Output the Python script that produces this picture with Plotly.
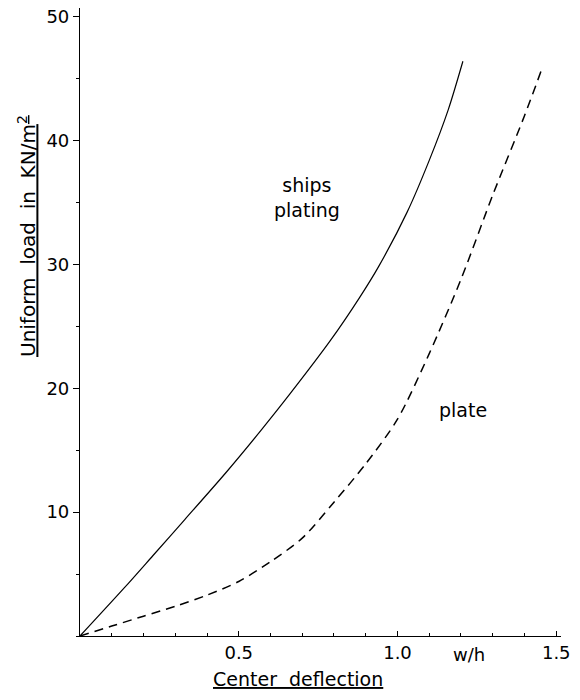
import plotly.graph_objects as go

# Data
ship_x = [0, 0.14, 0.23, 0.33, 0.46, 0.57, 0.66, 0.79, 0.88, 0.94, 1.03, 1.10, 1.16, 1.206]
ship_y = [0, 3.9, 6.5, 9.4, 13.2, 16.6, 19.5, 23.9, 27.3, 29.8, 34.2, 38.4, 42.5, 46.4]

plate_x = [0, 0.1, 0.2, 0.3, 0.4, 0.5, 0.6, 0.7, 0.8, 0.9, 1.0, 1.1, 1.2, 1.3, 1.4, 1.455]
plate_y = [0, 0.8, 1.6, 2.4, 3.3, 4.4, 6.0, 7.9, 10.8, 13.9, 17.5, 22.8, 28.8, 35.6, 42.0, 45.8]

x_tickvals = [0.5, 1.0, 1.5]
x_ticktext = ["0.5", "1.0", "1.5"]
y_tickvals = [10, 20, 30, 40, 50]
y_ticktext = ["10", "20", "30", "40", "50"]

FONT = "DejaVu Sans"

fig = go.Figure()
fig.add_trace(go.Scatter(x=ship_x, y=ship_y, mode="lines",
                         line=dict(color="black", width=1.2, shape="spline", smoothing=0.8),
                         showlegend=False))
fig.add_trace(go.Scatter(x=plate_x, y=plate_y, mode="lines",
                         line=dict(color="black", width=1.5, dash="9px,6px", shape="spline", smoothing=0.8),
                         showlegend=False))

# the page body adds an 8px offset, so margins are reduced by 8 on the left/top
fig.update_layout(
    width=580, height=700,
    margin=dict(l=72, r=27, t=0, b=72, autoexpand=False),
    paper_bgcolor="white", plot_bgcolor="white",
    font=dict(family=FONT, size=18, color="black"),
    showlegend=False,
    xaxis=dict(range=[0, 1.515], showline=True, linecolor="black", linewidth=1.2,
               showgrid=False, zeroline=False, automargin=False,
               tickvals=x_tickvals, ticktext=x_ticktext, ticklabeloverflow="allow",
               ticks="inside", ticklen=5, tickcolor="black",
               minor=dict(dtick=0.1, tick0=0, ticks="inside", ticklen=3, tickcolor="black"),
               tickfont=dict(family=FONT, size=18)),
    yaxis=dict(range=[0, 50.7], showline=True, linecolor="black", linewidth=1.2,
               showgrid=False, zeroline=False, automargin=False,
               tickvals=y_tickvals, ticktext=y_ticktext, ticklabeloverflow="allow",
               ticks="outside", ticklen=6, tickcolor="black",
               minor=dict(dtick=5, tick0=0, ticks="outside", ticklen=3, tickcolor="black"),
               tickfont=dict(family=FONT, size=18)),
)

ann = [
    dict(text="<u>Uniform  load  in  KN/m<sup>2</sup></u>", xref="paper", yref="paper",
         x=0, xshift=-53, y=(636 - 236) / 628, textangle=-90,
         xanchor="center", yanchor="middle", showarrow=False,
         font=dict(family=FONT, size=20)),
    dict(text="<u>Center  deflection</u>", xref="paper", yref="paper",
         x=(298 - 80) / 481, y=0, yshift=-43, xanchor="center", yanchor="middle",
         showarrow=False, font=dict(family=FONT, size=19)),
    dict(text="w/h", xref="paper", yref="paper",
         x=(469 - 80) / 481, y=0, yshift=-18, xanchor="center", yanchor="middle",
         showarrow=False, font=dict(family=FONT, size=18)),
    dict(text="ships<br>plating", xref="paper", yref="paper",
         x=(307 - 80) / 481, y=(636 - 197) / 628, xanchor="center", yanchor="middle",
         showarrow=False, align="center", font=dict(family=FONT, size=19)),
    dict(text="plate", xref="paper", yref="paper",
         x=(463 - 80) / 481, y=(636 - 410) / 628, xanchor="center", yanchor="middle",
         showarrow=False, font=dict(family=FONT, size=19)),
]
fig.update_layout(annotations=ann)

fig.write_html("out.html")
